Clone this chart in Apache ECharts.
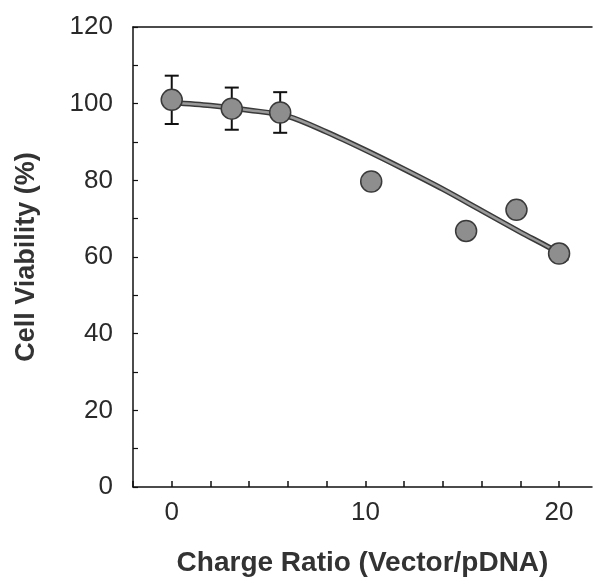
<!DOCTYPE html>
<html>
<head>
<meta charset="utf-8">
<script src="https://cdn.jsdelivr.net/npm/echarts@6/dist/echarts.min.js"></script>
<style>html,body{margin:0;padding:0;background:#fff}#c{width:595px;height:582px}</style>
</head>
<body>
<div id="c"></div>
<script>
// Measured points (mean cell viability)
const ratioX = [0, 3.1, 5.6, 10.3, 15.2, 17.8, 20];
const viability = [101, 98.7, 97.7, 79.7, 66.8, 72.3, 60.9];
// Error bars (first three points)
const errX = [0, 3.1, 5.6];
const errMean = [101, 98.7, 97.7];
const errSD = [6.3, 5.5, 5.3];
// Fitted curve
const fitX = [0, 2, 4, 6, 8, 10, 12, 14, 16, 18, 20, 20.4];
const fitY = [100.3, 99.5, 98.3, 96.7, 92.6, 87.9, 82.9, 77.7, 72.1, 66.5, 61.0, 58.8];
// Tick labels
const xLabels = [0, 10, 20];
const yLabels = [0, 20, 40, 60, 80, 100, 120];

const chart = echarts.init(document.getElementById('c'), null, {renderer: 'canvas'});
const txt = '#2a2a2a';
const font = 'Liberation Sans, Arial, Helvetica, sans-serif';

const option = {
  animation: false,
  backgroundColor: '#fff',
  grid: {left: 133, right: 3, top: 27, bottom: 92},
  xAxis: [{
    type: 'value', min: -2, max: 21.7, interval: 2,
    name: 'Charge Ratio (Vector/pDNA)', nameLocation: 'middle', nameGap: 62,
    nameTextStyle: {fontFamily: font, fontSize: 28, fontWeight: 'bold', color: '#333'},
    axisLine: {show: true, onZero: false, lineStyle: {color: '#111', width: 1.5}},
    axisTick: {show: true, inside: true, length: 6, lineStyle: {color: '#111', width: 1.5}},
    axisLabel: {show: true, margin: 13, fontFamily: font, fontSize: 26, color: txt,
      showMaxLabel: false,
      formatter: v => xLabels.indexOf(Math.round(v * 100) / 100) >= 0 ? String(v) : ''},
    splitLine: {show: false}
  }, {
    type: 'value', position: 'top', min: -2, max: 21.7,
    axisLine: {show: true, onZero: false, lineStyle: {color: '#111', width: 1.5}},
    axisTick: {show: false}, axisLabel: {show: false}, splitLine: {show: false}
  }],
  yAxis: {
    type: 'value', min: 0, max: 120, interval: 10,
    name: 'Cell Viability (%)', nameLocation: 'middle', nameGap: 93, nameRotate: 90,
    nameTextStyle: {fontFamily: font, fontSize: 27, fontWeight: 'bold', color: '#333'},
    axisLine: {show: true, onZero: false, lineStyle: {color: '#111', width: 1.5}},
    axisTick: {show: true, inside: true, length: 5, lineStyle: {color: '#111', width: 1.2}},
    axisLabel: {show: true, margin: 20, fontFamily: font, fontSize: 26, color: txt,
      formatter: v => yLabels.indexOf(v) >= 0 ? String(v) : ''},
    splitLine: {show: false}
  },
  series: [
    {
      type: 'line', smooth: 0.3, showSymbol: false, z: 2,
      data: fitX.map((x, i) => [x, fitY[i]]),
      lineStyle: {color: '#3a3a3a', width: 5.5}
    },
    {
      type: 'line', smooth: 0.3, showSymbol: false, z: 3,
      data: fitX.map((x, i) => [x, fitY[i]]),
      lineStyle: {color: '#9a9a9a', width: 2.5}
    },
    {
      type: 'custom', z: 4,
      data: errX.map((x, i) => [x, errMean[i] - errSD[i], errMean[i] + errSD[i]]),
      renderItem: function (params, api) {
        const lo = api.coord([api.value(0), api.value(1)]);
        const hi = api.coord([api.value(0), api.value(2)]);
        const w = 7;
        const st = {stroke: '#111', lineWidth: 2};
        return {type: 'group', children: [
          {type: 'line', shape: {x1: lo[0], y1: lo[1], x2: hi[0], y2: hi[1]}, style: st},
          {type: 'line', shape: {x1: lo[0] - w, y1: lo[1], x2: lo[0] + w, y2: lo[1]}, style: st},
          {type: 'line', shape: {x1: hi[0] - w, y1: hi[1], x2: hi[0] + w, y2: hi[1]}, style: st}
        ]};
      }
    },
    {
      type: 'scatter', z: 5, symbol: 'circle', symbolSize: 21,
      data: ratioX.map((x, i) => [x, viability[i]]),
      itemStyle: {color: '#8e8e8e', borderColor: '#3a3a3a', borderWidth: 1.5, opacity: 1}
    }
  ]
};
chart.setOption(option);
</script>
</body>
</html>
